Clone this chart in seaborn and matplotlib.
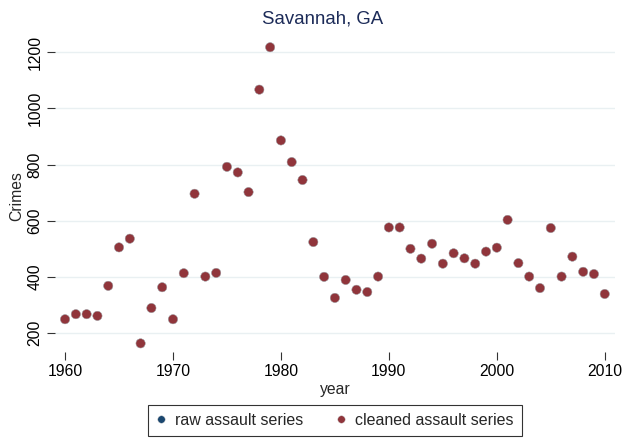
import numpy as np
import matplotlib
matplotlib.use("Agg")
import matplotlib.pyplot as plt
import pandas as pd
import seaborn as sns

#-------------------------------------Dados---------------------------------------------
years = list(range(1960, 2011))

cleaned_assault = [249, 267, 267, 261, 368, 505, 536, 163, 289, 363,
                   249, 413, 696, 401, 414, 792, 772, 702, 1067, 1218,
                   886, 809, 745, 524, 400, 325, 389, 354, 346, 401,
                   576, 576, 500, 465, 518, 447, 484, 466, 447, 490,
                   504, 603, 449, 401, 360, 574, 401, 472, 418, 410,
                   339]

# raw series sits exactly under the cleaned one (no navy point is visible)
raw_assault = list(cleaned_assault)

series_names = ['raw assault series', 'cleaned assault series']
series_colors = ['#1a476f', '#90353b']

y_ticks = [200, 400, 600, 800, 1000, 1200]
x_ticks = [1960, 1970, 1980, 1990, 2000, 2010]

df = pd.DataFrame({
    'year': years * 2,
    'Crimes': raw_assault + cleaned_assault,
    'serie': [series_names[0]] * len(years) + [series_names[1]] * len(years),
})

#-------------------------------------Grafico---------------------------------------------
sns.set_style("white")
plt.rcParams['font.family'] = ['Liberation Sans', 'DejaVu Sans']

fig = plt.figure(figsize=(6.26, 4.38), dpi=100)
W, H = 626, 438
ax = fig.add_axes([55 / W, 1 - 352 / H, (615 - 55) / W, (352 - 40) / H])

sns.scatterplot(data=df, x='year', y='Crimes', hue='serie', hue_order=series_names,
                palette=series_colors, s=45, linewidth=0.3, edgecolor='#c8c8c8',
                ax=ax, zorder=3)

ax.set_xlim(1959.07, 2010.95)
ax.set_ylim(132.3, 1243.8)
ax.set_xticks(x_ticks)
ax.set_yticks(y_ticks)
ax.set_yticklabels([str(v) for v in y_ticks], rotation=90, va='center')
ax.tick_params(axis='both', direction='out', length=6, width=0.8, color='#333333',
               labelsize=11.3, labelcolor='black', pad=3)
ax.tick_params(axis='y', left=True)
ax.tick_params(axis='x', bottom=True)
for sp in ax.spines.values():
    sp.set_visible(False)
ax.grid(axis='y', color='#e9f0f2', linewidth=1.0, zorder=0)
ax.grid(axis='x', visible=False)

ax.set_xlabel('year', fontsize=11.3, labelpad=2)
ax.set_ylabel('Crimes', fontsize=11.3, labelpad=2)

fig.text(323 / W, 1 - 19 / H, 'Savannah, GA', ha='center', va='center',
         fontsize=13.4, color='#1c2b58')

sns.move_legend(ax, 'center', bbox_to_anchor=(335 / W, 1 - 420.5 / H),
                bbox_transform=fig.transFigure, ncol=2, title=None, frameon=True,
                fontsize=11.5, markerscale=0.8, handlelength=0.6, handletextpad=0.6,
                columnspacing=2.05, borderpad=0.5, fancybox=False, edgecolor='black')
leg = ax.get_legend()
leg.get_frame().set_linewidth(0.8)

fig.savefig('out.png', dpi=100)
